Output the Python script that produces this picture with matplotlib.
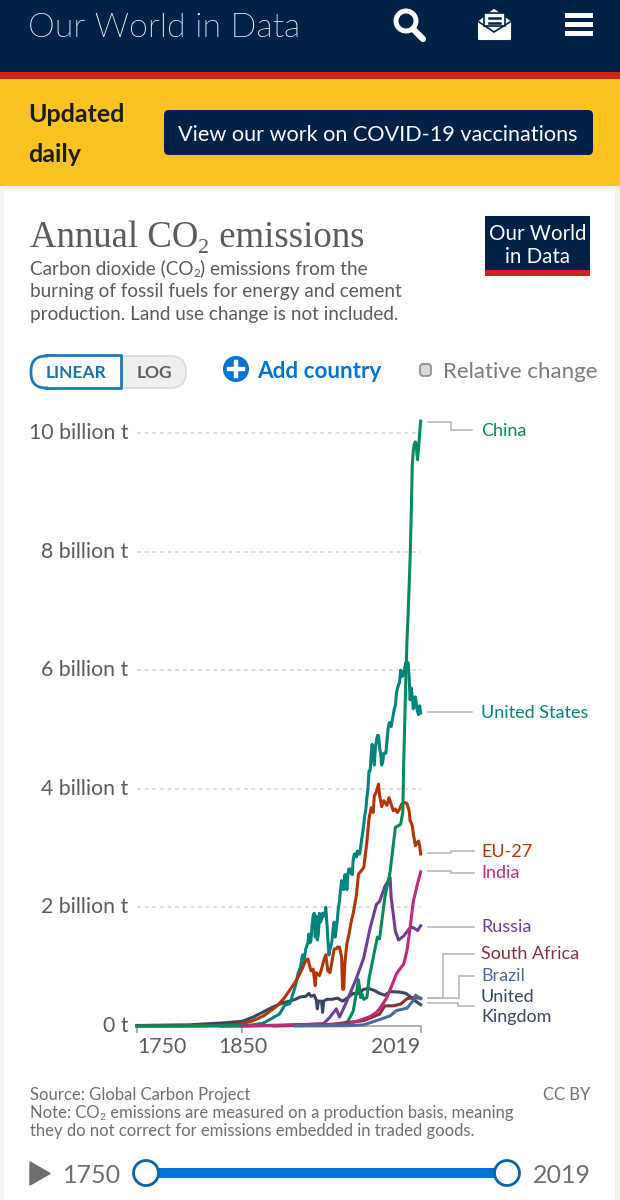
import matplotlib
matplotlib.use("Agg")
import matplotlib.pyplot as plt
from matplotlib import font_manager as fm
from matplotlib.patches import Rectangle, FancyBboxPatch, Circle, Polygon
from matplotlib.transforms import ScaledTranslation

# ---------- data (billion tonnes) ----------
us_years = [1750,1800,1850,1860,1870,1880,1885,1890,1895,1900,1903,1905,1907,1908,1910,1912,1913,1914,1915,1916,1917,1918,1919,1920,1921,1922,1923,1924,1925,1926,1927,1928,1929,1930,1931,1932,1933,1934,1935,1936,1937,1938,1939,1940,1941,1942,1943,1944,1945,1946,1947,1948,1949,1950,1951,1952,1953,1954,1955,1956,1957,1958,1959,1960,1961,1962,1963,1964,1965,1966,1967,1968,1969,1970,1971,1972,1973,1974,1975,1976,1977,1978,1979,1980,1981,1982,1983,1984,1985,1986,1987,1988,1989,1990,1991,1992,1993,1994,1995,1996,1997,1998,1999,2000,2001,2002,2003,2004,2005,2006,2007,2008,2009,2010,2011,2012,2013,2014,2015,2016,2017,2018,2019]
us_values = [0,0,0.005,0.02,0.05,0.15,0.2,0.35,0.38,0.66,0.9,1.0,1.2,1.05,1.3,1.4,1.55,1.4,1.45,1.7,1.85,1.9,1.5,1.85,1.45,1.55,1.9,1.75,1.8,1.9,1.85,1.88,2.0,1.75,1.45,1.2,1.3,1.35,1.45,1.65,1.75,1.5,1.65,1.8,2.0,2.1,2.3,2.45,2.35,2.3,2.55,2.55,2.3,2.55,2.65,2.6,2.65,2.55,2.8,2.9,2.9,2.85,2.95,2.9,2.9,3.0,3.15,3.25,3.4,3.55,3.65,3.85,4.0,4.3,4.3,4.55,4.75,4.55,4.4,4.7,4.8,4.9,4.9,4.7,4.6,4.4,4.45,4.6,4.6,4.6,4.8,5.0,5.1,5.12,5.05,5.15,5.25,5.35,5.4,5.6,5.7,5.75,5.8,6.0,5.9,5.9,5.95,6.05,6.13,6.05,6.13,5.9,5.5,5.7,5.55,5.35,5.5,5.55,5.4,5.3,5.25,5.4,5.28]

eu_years = [1750,1800,1830,1850,1860,1870,1883,1890,1900,1905,1910,1912,1914,1915,1917,1919,1920,1923,1925,1927,1929,1931,1933,1935,1937,1939,1940,1942,1944,1945,1946,1947,1949,1951,1953,1955,1958,1960,1965,1968,1970,1972,1974,1975,1977,1979,1980,1982,1984,1987,1989,1991,1993,1995,1997,1999,2001,2004,2006,2008,2009,2010,2011,2012,2014,2015,2016,2017,2018,2019]
eu_values = [0,0.005,0.01,0.04,0.09,0.17,0.34,0.48,0.74,0.9,1.1,1.13,1.0,0.93,0.96,0.68,0.9,0.85,0.96,1.1,1.2,0.93,0.9,1.1,1.3,1.3,1.33,1.33,1.16,0.62,0.62,1.05,1.38,1.55,1.75,1.9,2.2,2.56,2.67,3.1,3.5,3.68,3.6,3.88,3.95,4.08,3.9,3.7,3.8,3.72,3.85,3.74,3.63,3.66,3.6,3.66,3.74,3.77,3.75,3.63,3.46,3.43,3.38,3.24,3.04,3.07,3.1,3.12,3.04,2.9]

china_years = [1750,1900,1930,1945,1950,1955,1958,1960,1962,1963,1965,1968,1970,1975,1978,1980,1985,1990,1995,2000,2002,2003,2004,2005,2006,2007,2008,2009,2010,2011,2012,2013,2014,2015,2016,2017,2018,2019]
china_values = [0,0.01,0.02,0.03,0.08,0.25,0.55,0.78,0.48,0.55,0.45,0.48,0.8,1.24,1.5,1.47,2.17,2.6,3.35,3.4,3.6,4.5,5.2,5.9,6.5,6.9,7.4,7.9,8.6,9.45,9.7,9.82,9.85,9.75,9.55,9.75,10.0,10.2]

russia_years = [1830,1880,1900,1927,1933,1939,1942,1946,1952,1958,1965,1971,1977,1980,1985,1990,1991,1995,1998,2003,2009,2012,2016,2019]
russia_values = [0,0.005,0.02,0.04,0.15,0.29,0.15,0.3,0.55,0.8,1.15,1.65,2.05,2.1,2.35,2.5,2.17,1.6,1.45,1.52,1.66,1.66,1.61,1.69]

india_years = [1850,1900,1950,1965,1971,1977,1980,1987,1992,1996,2003,2006,2009,2012,2016,2019]
india_values = [0,0.02,0.03,0.12,0.16,0.23,0.29,0.48,0.7,0.88,1.05,1.27,1.66,2.1,2.4,2.6]

safrica_years = [1880,1930,1965,1980,1985,1993,2000,2006,2012,2019]
safrica_values = [0,0.02,0.09,0.2,0.34,0.34,0.37,0.46,0.48,0.47]

brazil_years = [1900,1950,1965,1977,1990,1996,2006,2012,2014,2019]
brazil_values = [0,0.005,0.02,0.09,0.17,0.26,0.3,0.43,0.52,0.46]

uk_years = [1750,1800,1830,1850,1860,1870,1880,1890,1895,1900,1905,1910,1913,1915,1918,1920,1921,1922,1925,1926,1927,1930,1935,1940,1945,1950,1955,1960,1965,1970,1975,1980,1985,1990,2000,2005,2010,2015,2019]
uk_values = [0.009,0.02,0.05,0.08,0.15,0.24,0.33,0.4,0.42,0.45,0.49,0.5,0.55,0.5,0.52,0.44,0.29,0.42,0.42,0.23,0.42,0.45,0.45,0.47,0.42,0.48,0.55,0.55,0.62,0.63,0.6,0.55,0.52,0.58,0.57,0.55,0.48,0.41,0.36]

y_ticks = [0, 2, 4, 6, 8, 10]
y_labels = ["0 t", "2 billion t", "4 billion t", "6 billion t", "8 billion t", "10 billion t"]
x_ticks = [1750, 1850, 2019]

series = [
    (uk_years, uk_values, "#38465e"),
    (us_years, us_values, "#00847e"),
    (eu_years, eu_values, "#b13507"),
    (russia_years, russia_values, "#6d3e91"),
    (china_years, china_values, "#058a5b"),
    (safrica_years, safrica_values, "#883039"),
    (india_years, india_values, "#be2a79"),
    (brazil_years, brazil_values, "#4c6a9c"),
]

NAVY = "#002147"; RED = "#ce261e"; YELLOW = "#f9c322"; BLUE = "#0073d6"; GREY = "#5b5b5b"
LATO = "Lato"

# a true Light cut of Lato for the masthead (weight="light" resolves to Hairline)
light_file = None
for f in fm.fontManager.ttflist:
    base = f.fname.rsplit("/", 1)[-1].lower()
    if f.name.startswith("Lato") and "light" in base and "italic" not in base and "hairline" not in base:
        light_file = f.fname
        break
LIGHT = fm.FontProperties(fname=light_file, size=24.5) if light_file else fm.FontProperties(family="Roboto", weight="light", size=24)

fig = plt.figure(figsize=(6.2, 12), dpi=100, facecolor="#f2f2f2")
bg = fig.add_axes([0, 0, 1, 1], zorder=0)
bg.set_xlim(0, 620); bg.set_ylim(1200, 0); bg.axis("off")

def T(x, y, s, size, color=GREY, ha="left", va="baseline", weight="normal", family=LATO):
    return bg.text(x, y, s, fontsize=size, color=color, ha=ha, va=va, weight=weight, family=family)

def seq(x, y, parts, color, family=LATO):
    r = fig.canvas.get_renderer()
    for s, size, dy in parts:
        t = T(x, y + dy, s, size, color, family=family)
        bb = t.get_window_extent(r)
        x = bb.x1
    return x

# ---------- page furniture ----------
bg.add_patch(Rectangle((0, 0), 620, 73, color=NAVY, lw=0))
bg.add_patch(Rectangle((0, 72), 620, 8, color=RED, lw=0))
bg.add_patch(Rectangle((0, 79), 620, 107, color=YELLOW, lw=0))
bg.add_patch(Rectangle((4, 190), 611, 1010, color="white", lw=0))
bg.text(28, 37, "Our World in Data", color="white", fontproperties=LIGHT)
T(28, 122, "Updated", 18, "#1c1c1c", weight="bold")
T(28, 162, "daily", 18, "#1c1c1c", weight="bold")
bg.add_patch(FancyBboxPatch((167, 113), 423, 39, boxstyle="round,pad=3,rounding_size=5", fc=NAVY, ec=NAVY, lw=0))
T(378, 141, "View our work on COVID-19 vaccinations", 15.6, "white", ha="center")

# search icon
bg.add_patch(Circle((406, 21), 10, fc="none", ec="white", lw=3.6))
bg.plot([413, 423], [29, 39], color="white", lw=4.5, solid_capstyle="round")
# envelope icon
bg.add_patch(Polygon([[479, 22], [494, 10], [510, 22], [510, 39], [479, 39]], fc="white", ec="white", lw=1.5, joinstyle="round"))
bg.add_patch(Rectangle((484, 13), 21, 13, fc="white", ec=NAVY, lw=1.2))
bg.plot([489, 500], [18, 18], color=NAVY, lw=1.8)
bg.plot([489, 500], [23, 23], color=NAVY, lw=1.8)
bg.plot([479, 494, 510], [22, 32, 22], color=NAVY, lw=1.2)
# menu icon
for yy in (15, 24, 33):
    bg.add_patch(Rectangle((565, yy - 2.5), 28, 5.5, color="white", lw=0))

# title block
seq(30, 247, [("Annual CO", 26.5, 0), ("2", 16, 6), (" emissions", 26.5, 0)], "#5b5b5b", family="Liberation Serif")
seq(30, 274, [("Carbon dioxide (CO", 13.6, 0), ("2", 8.5, 3), (") emissions from the", 13.6, 0)], "#5b5b5b")
T(30, 297, "burning of fossil fuels for energy and cement", 13.6)
T(30, 320, "production. Land use change is not included.", 13.6)

bg.add_patch(Rectangle((485, 216), 105, 55, color=NAVY, lw=0))
bg.add_patch(Rectangle((485, 270), 105, 6, color=RED, lw=0))
T(537.5, 240, "Our World", 14.8, "white", ha="center")
T(537.5, 263, "in Data", 14.8, "white", ha="center")

# controls
bg.add_patch(FancyBboxPatch((46, 356), 140, 32, boxstyle="round,pad=0,rounding_size=16", fc="#efefef", ec="#d8d8d8", lw=1.2))
bg.add_patch(FancyBboxPatch((31, 356), 40, 32, boxstyle="round,pad=0,rounding_size=15", fc="white", ec="#1d7ab8", lw=2))
bg.add_patch(Rectangle((48, 355), 73, 33, fc="white", ec="none"))
bg.plot([46, 121, 121, 46], [355, 355, 388, 388], color="#1d7ab8", lw=2)
T(76, 378, "LINEAR", 12.5, "#1d6fa8", ha="center", weight="bold")
T(154, 378, "LOG", 12.5, "#5a6068", ha="center", weight="bold")
bg.add_patch(Circle((236, 369), 13, fc=BLUE, ec="none"))
bg.plot([229, 243], [369, 369], color="white", lw=3.2)
bg.plot([236, 236], [362, 376], color="white", lw=3.2)
T(257, 378, "Add country", 16.2, BLUE, weight="bold")
bg.add_patch(FancyBboxPatch((420, 364), 11, 12, boxstyle="round,pad=0,rounding_size=3", fc="#d9d9d9", ec="#8a8a8a", lw=1.2))
T(443, 378, "Relative change", 16, "#7a7a7a")

# footer
T(30, 1100, "Source: Global Carbon Project", 12, "#6e6e6e")
T(590, 1100, "CC BY", 12, "#6e6e6e", ha="right")
seq(30, 1118, [("Note: CO", 12, 0), ("2", 7.5, 2.5), (" emissions are measured on a production basis, meaning", 12, 0)], "#6e6e6e")
T(30, 1136, "they do not correct for emissions embedded in traded goods.", 12, "#6e6e6e")

bg.add_patch(Polygon([[30, 1162], [50, 1173.5], [30, 1185]], fc="#6e6e6e", ec="#6e6e6e", lw=1, joinstyle="round"))
T(63, 1183, "1750", 18, "#6e6e6e")
T(591, 1183, "2019", 18, "#6e6e6e", ha="right")
bg.add_patch(Rectangle((146, 1168), 361, 10, color=BLUE, lw=0))
for cx in (146, 507):
    bg.add_patch(Circle((cx, 1173), 12.5, fc="white", ec="#0a62a8", lw=2))

# label leader lines
LEAD = "#b3b3b3"
leaders = [
    ([428, 451, 451, 472], [421.5, 421.5, 430, 430]),
    ([428, 472], [712, 712]),
    ([428, 451, 451, 474], [853, 853, 851, 851]),
    ([428, 451, 451, 474], [871, 871, 872.5, 872.5]),
    ([428, 474], [926.5, 926.5]),
    ([428, 443, 443, 474], [998, 998, 954, 954]),
    ([428, 459, 459, 474], [998, 998, 975.5, 975.5]),
    ([428, 458, 458, 474], [1003, 1003, 1006, 1006]),
]
for xs, ys in leaders:
    bg.plot(xs, ys, color=LEAD, lw=1.1)

LBL = 13
T(481, 436, "China", LBL, "#058a5b")
T(481, 718, "United States", LBL, "#00847e")
T(481, 857, "EU-27", LBL, "#b13507")
T(481, 878, "India", LBL, "#be2a79")
T(481, 932, "Russia", LBL, "#6d3e91")
T(481, 959, "South Africa", LBL, "#883039")
T(481, 981, "Brazil", LBL, "#4c6a9c")
T(481, 1002, "United", LBL, "#38465e")
T(481, 1022, "Kingdom", LBL, "#38465e")

# ---------- chart ----------
ax = fig.add_axes([137/620, (1200-1026)/1200, 284/620, 606/1200], zorder=2)
ax.patch.set_alpha(0)
ax.set_xlim(1750, 2019.3)
ax.set_ylim(0, 606/59.3)
for s in ("top", "left", "right"):
    ax.spines[s].set_visible(False)
ax.spines["bottom"].set_color("#999999")
ax.spines["bottom"].set_linewidth(1.1)
ax.set_yticks(y_ticks[1:] + [0])
ax.set_yticklabels(y_labels[1:] + [y_labels[0]], fontsize=15.3, color=GREY, family=LATO)
ax.tick_params(axis="y", length=0, pad=6)
up = ScaledTranslation(0, 2/100, fig.dpi_scale_trans)
for lab in ax.get_yticklabels():
    lab.set_transform(lab.get_transform() + up)
ax.set_xticks(x_ticks)
ax.set_xticklabels([str(v) for v in x_ticks], fontsize=15.3, color=GREY, family=LATO)
ax.tick_params(axis="x", length=5, width=1.1, color="#999999", pad=3)
xl = ax.get_xticklabels()
xl[0].set_ha("left"); xl[1].set_ha("center"); xl[2].set_ha("right")
for v in y_ticks[1:]:
    ax.axhline(v, color="#d4d4d4", lw=1.1, ls=(0, (2.5, 2.5)), zorder=1)
for xs, ys, c in series:
    ax.plot(xs, ys, color=c, lw=2.2, solid_joinstyle="round", clip_on=False, zorder=3)

fig.savefig("out.png", dpi=100, facecolor=fig.get_facecolor())
